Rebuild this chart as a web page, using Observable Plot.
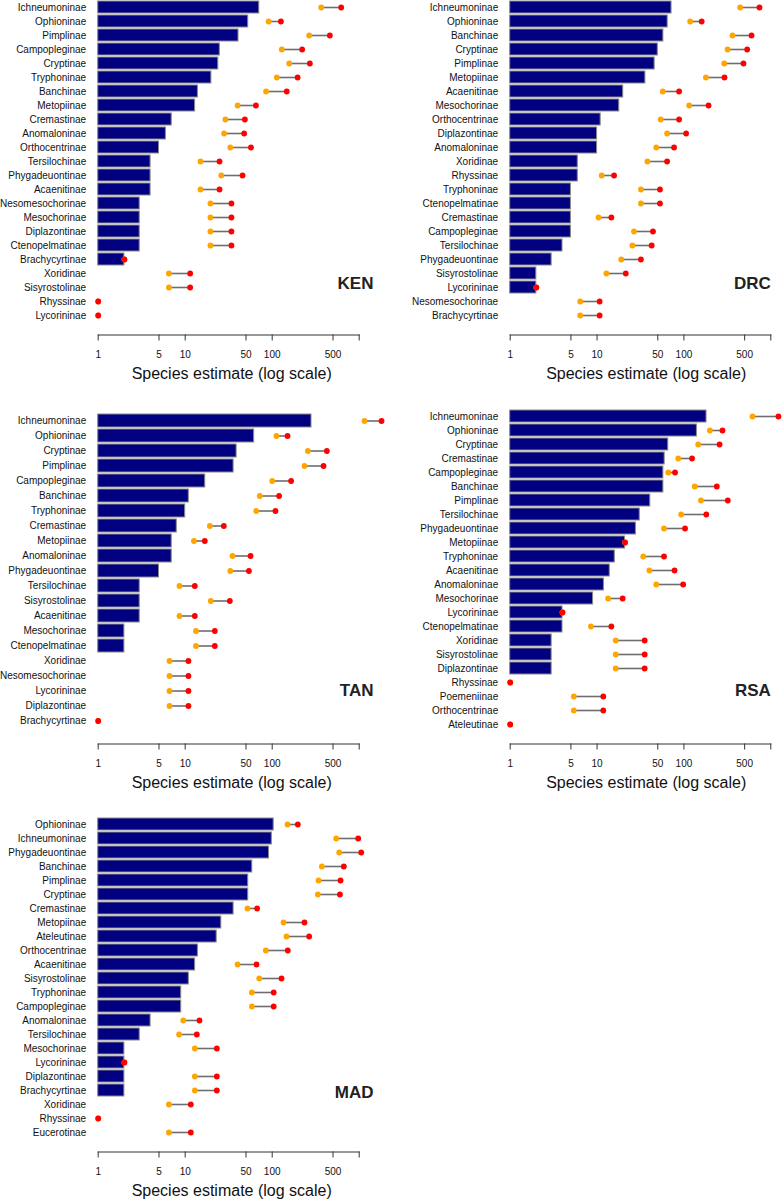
<!DOCTYPE html>
<html><head><meta charset="utf-8">
<script src="https://cdn.jsdelivr.net/npm/d3@7"></script>
<script src="https://cdn.jsdelivr.net/npm/@observablehq/plot@0.6"></script>
<style>
body{margin:0;background:#fff;}
#wrap{position:relative;width:782px;height:1200px;overflow:hidden;background:#fff;}
.panel{position:absolute;}
</style></head><body><div id="wrap"></div>
<script>
// ---- data ----
const kenSubfamily = ["Ichneumoninae","Ophioninae","Pimplinae","Campopleginae","Cryptinae","Tryphoninae","Banchinae","Metopiinae","Cremastinae","Anomaloninae","Orthocentrinae","Tersilochinae","Phygadeuontinae","Acaenitinae","Nesomesochorinae","Mesochorinae","Diplazontinae","Ctenopelmatinae","Brachycyrtinae","Xoridinae","Sisyrostolinae","Rhyssinae","Lycorininae"];
const kenObserved = [71,53,41,25,24,20,14,13,7,6,5,4,4,4,3,3,3,3,2,1,1,1,1];
const kenLow  = [366,91,266,129,157,113,85,40,29,28,33,15,26,15,19.5,19.5,19.5,19.5,2,6.5,6.5,1,1];
const kenHigh = [621,126,460,221,271,196,147,65,48.5,47.6,57,24.8,45.6,24.8,34,34,34,34,2,11.4,11.4,1,1];

const drcSubfamily = ["Ichneumoninae","Ophioninae","Banchinae","Cryptinae","Pimplinae","Metopiinae","Acaenitinae","Mesochorinae","Orthocentrinae","Diplazontinae","Anomaloninae","Xoridinae","Rhyssinae","Tryphoninae","Ctenopelmatinae","Cremastinae","Campopleginae","Tersilochinae","Phygadeuontinae","Sisyrostolinae","Lycorininae","Nesomesochorinae","Brachycyrtinae"];
const drcObserved = [72,65,58,50,46,36,20,18,11,10,10,6,6,5,5,5,5,4,3,2,2,1,1];
const drcLow  = [444,118,362,318,291,179,57,115,54,64,48,38,11.3,32,32,10.4,26.6,25.5,19,12.8,2,6.4,6.4];
const drcHigh = [741,160,600,535,485,293,88,192,88,106,77,64,15.7,53,53,14.6,44,42.5,32,21.4,2,10.7,10.7];

const tanSubfamily = ["Ichneumoninae","Ophioninae","Cryptinae","Pimplinae","Campopleginae","Banchinae","Tryphoninae","Cremastinae","Metopiinae","Anomaloninae","Phygadeuontinae","Tersilochinae","Sisyrostolinae","Acaenitinae","Mesochorinae","Ctenopelmatinae","Xoridinae","Nesomesochorinae","Lycorininae","Diplazontinae","Brachycyrtinae"];
const tanObserved = [283,62,39,36,17,11,10,8,7,7,5,3,3,3,2,2,1,1,1,1,1];
const tanLow  = [1151,112,257,235,100,72,65.5,19.2,12.6,35,33,8.6,19.7,8.6,13.3,13.3,6.6,6.6,6.6,6.6,1];
const tanHigh = [1806,150,425,389,165,120,109,27.8,16.8,56.4,54,12.9,32.6,12.9,21.9,21.9,10.9,10.9,10.9,10.9,1];

const rsaSubfamily = ["Ichneumoninae","Ophioninae","Cryptinae","Cremastinae","Campopleginae","Banchinae","Pimplinae","Tersilochinae","Phygadeuontinae","Metopiinae","Tryphoninae","Acaenitinae","Anomaloninae","Mesochorinae","Lycorininae","Ctenopelmatinae","Xoridinae","Sisyrostolinae","Diplazontinae","Rhyssinae","Poemeniinae","Orthocentrinae","Ateleutinae"];
const rsaObserved = [182,141,66,60,58,58,41,31,28,21,16,14,12,9,4,4,3,3,3,1,1,1,1];
const rsaLow  = [615,199,146,86,66,133,157,93,59,21,34,40,48,13.4,4,8.5,16.4,16.4,16.4,1,5.4,5.4,1];
const rsaHigh = [1225,278,257,124,79,239,320,181,103,21,59,78,98,19.7,4,14.6,35.3,35.3,35.3,1,11.8,11.8,1];

const madSubfamily = ["Ophioninae","Ichneumoninae","Phygadeuontinae","Banchinae","Pimplinae","Cryptinae","Cremastinae","Metopiinae","Ateleutinae","Orthocentrinae","Acaenitinae","Sisyrostolinae","Tryphoninae","Campopleginae","Anomaloninae","Tersilochinae","Mesochorinae","Lycorininae","Diplazontinae","Brachycyrtinae","Xoridinae","Rhyssinae","Eucerotinae"];
const madObserved = [104,99,92,59,53,53,36,26,23,14,13,11,9,9,4,3,2,2,2,2,1,1,1];
const madLow  = [150,544,589,372,341,335,52,135,146,84.5,40,71,58.4,58.4,9.5,8.5,12.9,2,12.9,12.9,6.5,1,6.5];
const madHigh = [197,974,1055,666,610,600,67,235,266,151,66,128,104,104,14.6,13.6,23.1,2,23.1,23.1,11.6,1,11.6];

const regions = ["KEN","DRC","TAN","RSA","MAD"];
const tickValues = [1,5,10,50,100,500,1000];
const tickLabels = ["1","5","10","50","100","500",""];
const axisTitle = "Species estimate (log scale)";

// ---- layout (styles / positions, not data) ----
const panels = [
  {name:regions[0], sub:kenSubfamily, obs:kenObserved, lo:kenLow, hi:kenHigh, col:0, row:0, labelDy:-46},
  {name:regions[1], sub:drcSubfamily, obs:drcObserved, lo:drcLow, hi:drcHigh, col:1, row:0, labelDy:-46},
  {name:regions[2], sub:tanSubfamily, obs:tanObserved, lo:tanLow, hi:tanHigh, col:0, row:1, labelDy:-48.5},
  {name:regions[3], sub:rsaSubfamily, obs:rsaObserved, lo:rsaLow, hi:rsaHigh, col:1, row:1, labelDy:-48.5},
  {name:regions[4], sub:madSubfamily, obs:madObserved, lo:madLow, hi:madHigh, col:0, row:2, labelDy:-54.5}
];
const colLayout = [
  {left:0,   marginLeft:97.7,  marginRight:32.3, labelDx:14.3, titleDx:3},
  {left:391, marginLeft:118.7, marginRight:11.7, labelDx:0,    titleDx:5.7}
];
const rowStep = 408.5, W = 391, Hsvg = 408, axisY = 334.5, plotBottom = 337, plotH = 351.4;
const FONT = "'Liberation Sans', Arial, Helvetica, sans-serif";

const wrap = document.getElementById("wrap");
for (const p of panels) {
  const c = colLayout[p.col];
  const n = p.sub.length;
  const R = 1.2 * n + 0.2;
  const data = p.sub.map((s, i) => ({sub: s, obs: p.obs[i], lo: p.lo[i], hi: p.hi[i]}));
  const chart = Plot.plot({
    width: W, height: Hsvg,
    marginLeft: c.marginLeft, marginRight: c.marginRight,
    marginTop: 0, marginBottom: Hsvg - axisY,
    style: {fontFamily: FONT, fontSize: "10px", color: "#111", background: "transparent", overflow: "visible"},
    x: {type: "log", domain: [1, 1000]},
    y: {type: "band", domain: p.sub, range: [plotBottom - plotH, plotBottom],
        paddingInner: 1/6, paddingOuter: (0.2 + 0.04 * R) / 1.2, align: 0.5},
    marks: [
      Plot.barX(data, {y: "sub", x1: 1, x2: "obs", fill: "#000080", stroke: "#8a8a8a", strokeWidth: 1}),
      Plot.link(data, {y1: "sub", y2: "sub", x1: "lo", x2: "hi", stroke: "#6e6e6e", strokeWidth: 1.6}),
      Plot.dot(data, {y: "sub", x: "lo", r: 2.9, fill: "#FFA500", stroke: "none"}),
      Plot.dot(data, {y: "sub", x: "hi", r: 2.9, fill: "#FF0000", stroke: "none"}),
      Plot.axisY({tickSize: 0, tickPadding: 12, label: null, fontSize: 10}),
      Plot.axisX(tickValues, {text: d => tickLabels[tickValues.indexOf(d)], tickSize: 6, tickPadding: 9.5, label: null, fontSize: 10, stroke: "#333"}),
      Plot.frame({anchor: "bottom", stroke: "#333"}),
      Plot.text([axisTitle], {text: d => d, frameAnchor: "bottom", lineAnchor: "top", dy: 32.5, dx: c.titleDx, fontSize: 16, fill: "#111"}),
      Plot.text([p.name], {text: d => d, frameAnchor: "bottom-right", textAnchor: "end", dx: c.labelDx, dy: p.labelDy, fontSize: 17, fontWeight: "bold", fill: "#222"})
    ]
  });
  chart.classList.add("panel");
  chart.style.left = c.left + "px";
  chart.style.top = (p.row * rowStep) + "px";
  wrap.appendChild(chart);
}
</script>
</body></html>
